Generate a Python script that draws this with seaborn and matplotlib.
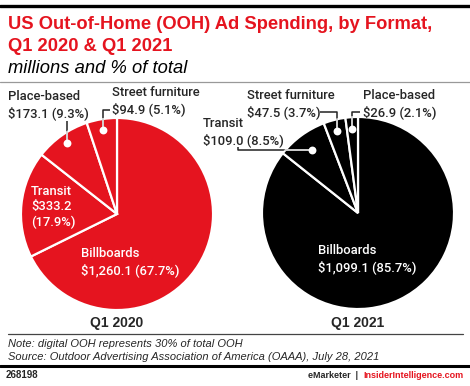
import numpy as np
import matplotlib.pyplot as plt
import seaborn as sns
from matplotlib.patches import Circle

sns.set_theme(style="white")
plt.rcParams['font.family'] = ['Liberation Sans', 'DejaVu Sans']

RED = "#e5141f"
W, H = 470, 386

formats_2020 = ["Billboards", "Transit", "Place-based", "Street furniture"]
spend_2020 = [1260.1, 333.2, 173.1, 94.9]
share_2020 = [67.7, 17.9, 9.3, 5.1]

formats_2021 = ["Billboards", "Transit", "Street furniture", "Place-based"]
spend_2021 = [1099.1, 109.0, 47.5, 26.9]
share_2021 = [85.7, 8.5, 3.7, 2.1]

fig = plt.figure(figsize=(W / 100, H / 100), dpi=100)
fig.patch.set_facecolor("white")


def draw_pie(cx, cy, r, values, color):
    ax = fig.add_axes([(cx - r) / W, (H - cy - r) / H, 2 * r / W, 2 * r / H])
    wedges, _ = ax.pie(values, colors=[color] * len(values), startangle=90,
                       counterclock=False, radius=1,
                       wedgeprops=dict(edgecolor="white", linewidth=1.6))
    ax.set_xlim(-1.01, 1.01)
    ax.set_ylim(-1.01, 1.01)
    ax.axis("off")
    return wedges


R = 97
C1 = (117, 214)
C2 = (358, 213)
w1 = draw_pie(*C1, R, spend_2020, RED)
w2 = draw_pie(*C2, R, spend_2021, "black")

# overlay in pixel coordinates for text and leaders
ov = fig.add_axes([0, 0, 1, 1])
ov.set_xlim(0, W)
ov.set_ylim(H, 0)
ov.axis("off")


def money(v, s):
    return f"${v:,.1f} ({s:.1f}%)"


def dot_pos(center, wedge, rf):
    a = np.deg2rad((wedge.theta1 + wedge.theta2) / 2)
    return center[0] + rf * R * np.cos(a), center[1] - rf * R * np.sin(a)


def leader(center, wedge, rf, path):
    x0, y0 = dot_pos(center, wedge, rf)
    xs, ys = [x0], [y0]
    for kind, val in path:
        if kind == "v":
            xs.append(xs[-1]); ys.append(val)
        else:
            xs.append(val); ys.append(ys[-1])
    ov.plot(xs, ys, color="#222222", lw=1.1, solid_capstyle="butt", zorder=3)
    inner, = ov.plot(xs, ys, color="white", lw=1.1, solid_capstyle="butt", zorder=4)
    clip = Circle(center, R, transform=ov.transData)
    inner.set_clip_path(clip)
    ov.scatter([x0], [y0], s=32, color="white", zorder=5, linewidths=0)


lab = dict(fontsize=9.4, family=["Roboto", "DejaVu Sans"], fontweight=500,
           va="baseline", linespacing=1.25)

# header
ov.plot([0, W], [6, 6], color="black", lw=2.4)
ov.text(8, 29, "US Out-of-Home (OOH) Ad Spending, by Format,", color=RED,
        fontsize=13.2, fontweight="bold", va="baseline")
ov.text(8, 51, "Q1 2020 & Q1 2021", color=RED, fontsize=13.2,
        fontweight="bold", va="baseline")
ov.text(8, 73, "millions and % of total", fontsize=13.2, style="italic",
        va="baseline", color="black")
ov.plot([0, W], [81.5, 81.5], color="#999999", lw=0.9)

# 2020 labels
i = {f: k for k, f in enumerate(formats_2020)}
k = i["Place-based"]
ov.text(8, 117, f"Place-based\n{money(spend_2020[k], share_2020[k])}", **lab)
leader(C1, w1[k], 0.9, [("v", 121)])
k = i["Street furniture"]
ov.text(112, 113, f"Street furniture\n{money(spend_2020[k], share_2020[k])}", **lab)
leader(C1, w1[k], 0.88, [("v", 110), ("h", 110)])
k = i["Transit"]
ov.text(31, 226, f"Transit\n${spend_2020[k]:,.1f}\n({share_2020[k]:.1f}%)",
        color="white", **lab)
k = i["Billboards"]
ov.text(81, 274, f"Billboards\n{money(spend_2020[k], share_2020[k])}",
        color="white", **lab)

# 2021 labels
i = {f: k for k, f in enumerate(formats_2021)}
k = i["Transit"]
ov.text(203, 144, f"Transit\n{money(spend_2021[k], share_2021[k])}", **lab)
leader(C2, w2[k], 0.81, [("h", 238), ("v", 147)])
k = i["Street furniture"]
ov.text(247, 116, f"Street furniture\n{money(spend_2021[k], share_2021[k])}", **lab)
leader(C2, w2[k], 0.87, [("v", 112), ("h", 320)])
k = i["Place-based"]
ov.text(363, 116, f"Place-based\n{money(spend_2021[k], share_2021[k])}", **lab)
leader(C2, w2[k], 0.87, [("v", 112), ("h", 360)])
k = i["Billboards"]
ov.text(318, 271, f"Billboards\n{money(spend_2021[k], share_2021[k])}",
        color="white", **lab)

# year captions
ov.text(C1[0], 327, "Q1 2020", fontsize=10, fontweight="bold", ha="center", va="baseline")
ov.text(C2[0], 327, "Q1 2021", fontsize=10, fontweight="bold", ha="center", va="baseline")

# footer
ov.plot([8, 463], [334, 334], color="#444444", lw=0.9)
ov.text(8, 347, "Note: digital OOH represents 30% of total OOH", fontsize=8,
        style="italic", va="baseline")
ov.text(8, 360, "Source: Outdoor Advertising Association of America (OAAA), July 28, 2021",
        fontsize=8, style="italic", va="baseline")
ov.plot([0, W], [366, 366], color="black", lw=2.2)
ov.text(6, 378, "268198", fontsize=7, fontweight="bold", va="baseline")
t_red = ov.text(463, 378, "InsiderIntelligence.com", fontsize=6.5, color=RED,
                fontweight="bold", ha="right", va="baseline")
ov.annotate("eMarketer  |  ", xy=(0, 0), xycoords=t_red, fontsize=6.5,
            fontweight="bold", ha="right", va="bottom")

fig.savefig("out.png", dpi=100)
